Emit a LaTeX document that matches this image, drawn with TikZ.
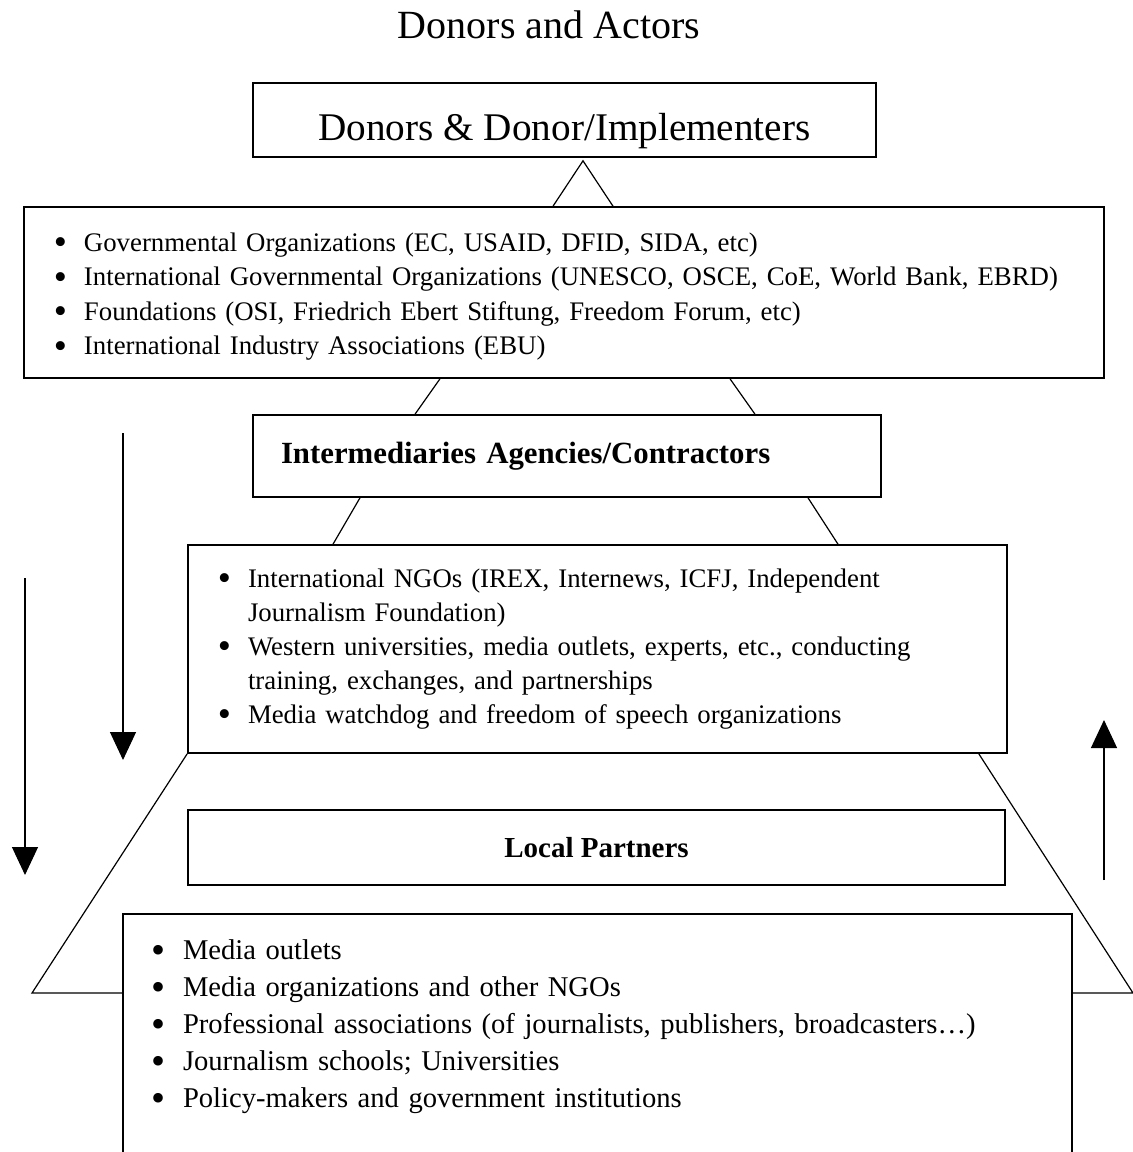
\documentclass[tikz,border=0pt]{standalone}
\usepackage{fontspec}
\setmainfont{Liberation Serif}
\usepackage{enumitem}
\usetikzlibrary{arrows.meta}
\setlist[itemize]{label={\raisebox{-0.14em}{\scalebox{1.4}{\textbullet}}},leftmargin=30pt,labelsep=8.5pt,itemsep=0pt,parsep=0pt,topsep=0pt,partopsep=0pt}
% empty strip under a list, to push its text up inside the box
\newcommand{\padbelow}[1]{\par\nointerlineskip\vbox to #1{}}

\begin{document}
\begin{tikzpicture}[
  x=0.5pt, y=-0.5pt,
  box/.style={draw, line width=0.8pt, inner sep=0pt},
  heading/.style={box, font=\fontsize{15.4pt}{18pt}\selectfont\bfseries},
  listbox/.style={box, align=left, text width=#1},
  link/.style={line width=0.6pt},
  flow/.style={line width=0.6pt, -{Triangle[width=13pt,length=14pt]}},
]
  \clip (0,0) rectangle (1133,1152);

  % title and the boxes, top to bottom
  \node[font=\fontsize{20pt}{24pt}\selectfont] (title) at (549,25) {Donors and Actors};
  \node[box, minimum width=311.5pt, minimum height=37pt, text height=20pt, text depth=0pt,
        font=\fontsize{19.6pt}{23pt}\selectfont] (donors) at (564.5,120) {Donors \& Donor/Implementers};
  \node[listbox=540pt, minimum height=85.5pt, font=\fontsize{13.4pt}{17.3pt}\selectfont] (govt) at (564,292.5) {%
    \begin{itemize}
      \item Governmental Organizations (EC, USAID, DFID, SIDA, etc)
      \item International Governmental Organizations (UNESCO, OSCE, CoE, World Bank, EBRD)
      \item Foundations (OSI, Friedrich Ebert Stiftung, Freedom Forum, etc)
      \item International Industry Associations (EBU)
    \end{itemize}\padbelow{4pt}};
  \node[heading, minimum width=314pt, minimum height=41pt, text width=286pt, inner xsep=14pt,
        align=left] (interm) at (567,456) {Intermediaries Agencies/Contractors};
  \node[listbox=409.5pt, minimum height=104pt, font=\fontsize{13.4pt}{17pt}\selectfont] (ngo) at (597.5,649) {%
    \begin{itemize}
      \item International NGOs (IREX, Internews, ICFJ, Independent\\ Journalism Foundation)
      \item Western universities, media outlets, experts, etc., conducting\\ training, exchanges, and partnerships
      \item Media watchdog and freedom of speech organizations
    \end{itemize}\padbelow{8pt}};
  \node[heading, minimum width=408.5pt, minimum height=37.5pt,
        font=\fontsize{14.5pt}{17pt}\selectfont\bfseries] (partners) at (596.5,847.5) {Local Partners};
  \node[listbox=474.5pt, anchor=north, inner ysep=4.4pt,
        font=\fontsize{14.3pt}{18.5pt}\selectfont] (local) at (597.5,913) {%
    \begin{itemize}
      \item Media outlets
      \item Media organizations and other NGOs
      \item Professional associations (of journalists, publishers, broadcasters\dots)
      \item Journalism schools; Universities
      \item Policy-makers and government institutions
    \end{itemize}\padbelow{60pt}};

  % pyramid lines
  \draw[link] ([xshift=-5.5pt]govt.north) -- ([xshift=9.25pt,yshift=-1.5pt]donors.south) -- ([xshift=24.5pt]govt.north);
  \draw[link] ([xshift=-62pt]govt.south) -- ([xshift=-76pt]interm.north);
  \draw[link] ([xshift=83pt]govt.south) -- ([xshift=94pt]interm.north);
  \draw[link] ([xshift=-103.5pt]interm.south) -- ([xshift=-132.25pt]ngo.north);
  \draw[link] ([xshift=120.5pt]interm.south) -- ([xshift=120.25pt]ngo.north);
  \coordinate (footL) at (32,993);
  \coordinate (footR) at (1133,993);
  \draw[link] (ngo.south west) -- (footL) -- (footL -| local.west);
  \draw[link] ([xshift=-14.5pt]ngo.south east) -- (footR) -- (footR -| local.east);

  % direction arrows
  \coordinate (downA) at (123,433);
  \coordinate (downA end) at (123,760);
  \coordinate (downB) at (25,578);
  \coordinate (downB end) at (25,875);
  \coordinate (upC) at (1104,880);
  \coordinate (upC end) at (1104,720);
  \draw[flow] (downA) -- (downA end);
  \draw[flow] (downB) -- (downB end);
  \draw[flow] (upC) -- (upC end);
\end{tikzpicture}
\end{document}
